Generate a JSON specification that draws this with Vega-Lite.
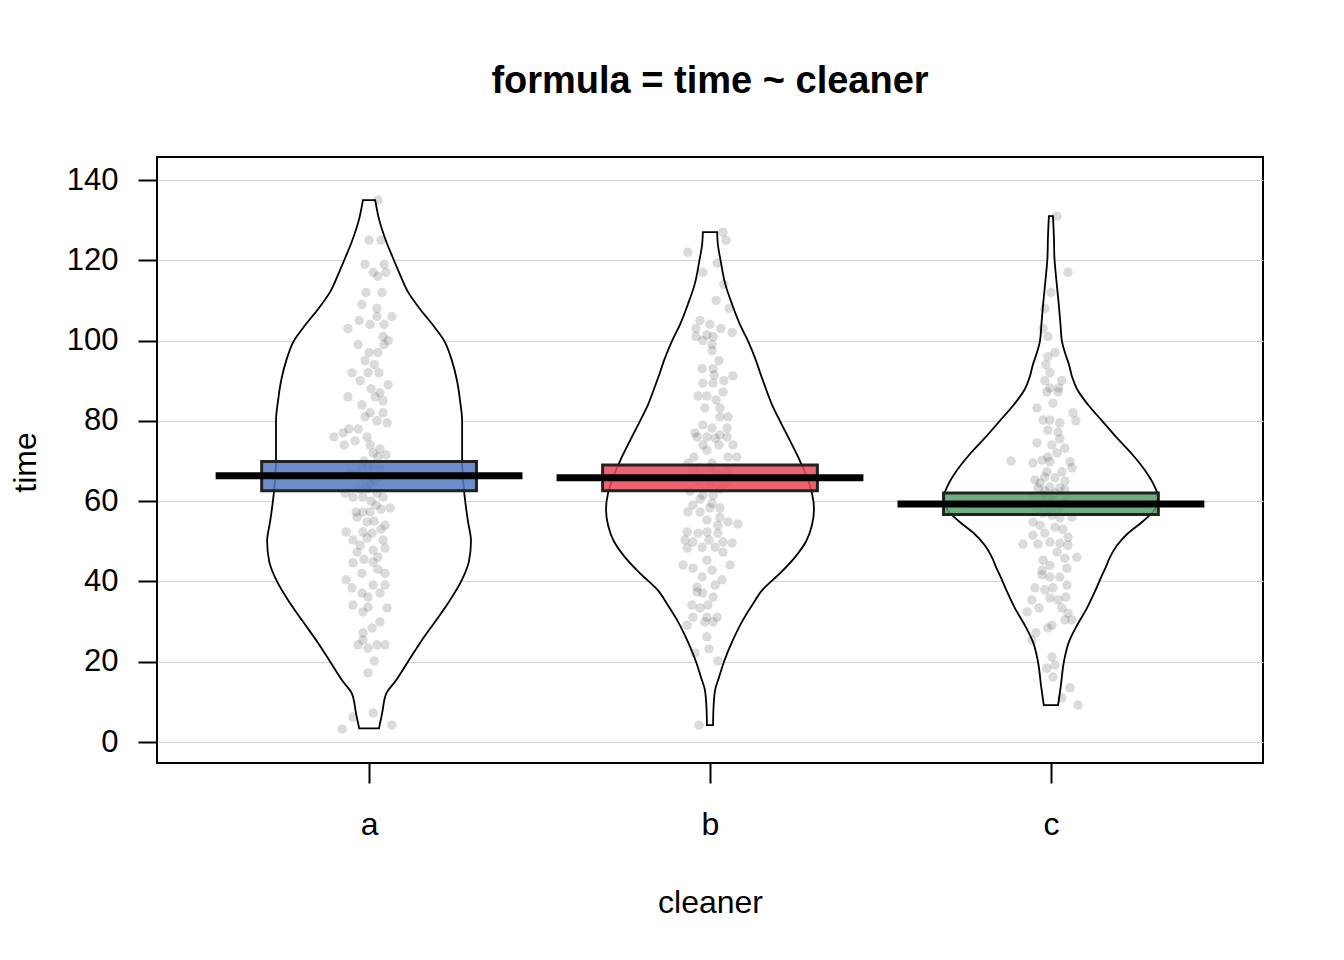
{
  "$schema": "https://vega.github.io/schema/vega-lite/v6.json",
  "width": 1106,
  "height": 606,
  "autosize": {"type": "none"},
  "padding": {"left": 157, "top": 157, "right": 81, "bottom": 197},
  "background": "white",
  "title": {"text": "formula = time ~ cleaner", "font": "Liberation Sans", "fontSize": 38, "fontWeight": "bold", "color": "black", "anchor": "middle", "frame": "group", "baseline": "alphabetic", "offset": 26},
  "config": {
    "view": {"stroke": "black", "strokeWidth": 2},
    "axis": {"labelFont": "Liberation Sans", "titleFont": "Liberation Sans", "labelColor": "black", "titleColor": "black", "tickColor": "black", "tickWidth": 2, "domain": false, "titleFontWeight": "normal"}
  },
  "datasets": {
    "bean": [
      {"c":"a","t":3.4,"w":0.029},{"c":"a","t":7,"w":0.038},{"c":"a","t":12,"w":0.05},{"c":"a","t":15,"w":0.076},{"c":"a","t":20,"w":0.114},{"c":"a","t":25,"w":0.152},{"c":"a","t":30,"w":0.194},{"c":"a","t":35,"w":0.235},{"c":"a","t":40,"w":0.27},{"c":"a","t":45,"w":0.293},{"c":"a","t":50,"w":0.299},{"c":"a","t":55,"w":0.29},{"c":"a","t":60,"w":0.282},{"c":"a","t":65,"w":0.276},{"c":"a","t":70,"w":0.273},{"c":"a","t":75,"w":0.273},{"c":"a","t":80,"w":0.273},{"c":"a","t":85,"w":0.267},{"c":"a","t":90,"w":0.258},{"c":"a","t":95,"w":0.243},{"c":"a","t":100,"w":0.22},{"c":"a","t":104,"w":0.186},{"c":"a","t":108,"w":0.148},{"c":"a","t":112,"w":0.115},{"c":"a","t":117,"w":0.088},{"c":"a","t":121,"w":0.068},{"c":"a","t":125,"w":0.049},{"c":"a","t":130,"w":0.03},{"c":"a","t":135,"w":0.018},
      {"c":"b","t":4.2,"w":0.009},{"c":"b","t":8,"w":0.01},{"c":"b","t":13,"w":0.015},{"c":"b","t":16,"w":0.026},{"c":"b","t":20,"w":0.041},{"c":"b","t":25,"w":0.065},{"c":"b","t":30,"w":0.094},{"c":"b","t":34,"w":0.123},{"c":"b","t":38,"w":0.155},{"c":"b","t":42,"w":0.205},{"c":"b","t":46,"w":0.249},{"c":"b","t":50,"w":0.282},{"c":"b","t":54,"w":0.299},{"c":"b","t":58,"w":0.305},{"c":"b","t":62,"w":0.299},{"c":"b","t":66,"w":0.284},{"c":"b","t":70,"w":0.264},{"c":"b","t":75,"w":0.235},{"c":"b","t":80,"w":0.205},{"c":"b","t":84,"w":0.182},{"c":"b","t":88,"w":0.164},{"c":"b","t":92,"w":0.147},{"c":"b","t":95,"w":0.135},{"c":"b","t":100,"w":0.111},{"c":"b","t":104,"w":0.088},{"c":"b","t":109,"w":0.065},{"c":"b","t":114,"w":0.045},{"c":"b","t":120,"w":0.031},{"c":"b","t":124,"w":0.023},{"c":"b","t":127,"w":0.021},
      {"c":"c","t":9.2,"w":0.021},{"c":"c","t":14,"w":0.029},{"c":"c","t":20,"w":0.038},{"c":"c","t":25,"w":0.053},{"c":"c","t":29,"w":0.076},{"c":"c","t":33.4,"w":0.106},{"c":"c","t":37.5,"w":0.129},{"c":"c","t":41.6,"w":0.15},{"c":"c","t":43,"w":0.158},{"c":"c","t":46,"w":0.173},{"c":"c","t":49,"w":0.194},{"c":"c","t":52,"w":0.226},{"c":"c","t":55,"w":0.27},{"c":"c","t":58,"w":0.305},{"c":"c","t":61,"w":0.314},{"c":"c","t":64,"w":0.302},{"c":"c","t":68,"w":0.273},{"c":"c","t":72,"w":0.235},{"c":"c","t":76,"w":0.191},{"c":"c","t":80,"w":0.15},{"c":"c","t":84,"w":0.109},{"c":"c","t":88,"w":0.076},{"c":"c","t":91,"w":0.062},{"c":"c","t":94,"w":0.053},{"c":"c","t":97,"w":0.041},{"c":"c","t":100,"w":0.032},{"c":"c","t":104,"w":0.028},{"c":"c","t":109,"w":0.023},{"c":"c","t":115,"w":0.016},{"c":"c","t":121,"w":0.01},{"c":"c","t":125,"w":0.009},{"c":"c","t":131,"w":0.006}
    ],
    "pts": [
      {"c":"a","t":135,"j":0.026},{"c":"a","t":125,"j":0},{"c":"a","t":125,"j":0.035},{"c":"a","t":119,"j":-0.012},{"c":"a","t":119,"j":0.044},{"c":"a","t":117,"j":0.012},{"c":"a","t":116,"j":0.026},{"c":"a","t":117,"j":0.05},{"c":"a","t":112,"j":-0.009},{"c":"a","t":112,"j":0.038},{"c":"a","t":109,"j":-0.021},{"c":"a","t":108,"j":0.023},{"c":"a","t":105,"j":-0.029},{"c":"a","t":106,"j":0.023},{"c":"a","t":106,"j":0.067},{"c":"a","t":103,"j":-0.062},{"c":"a","t":104,"j":0.003},{"c":"a","t":104,"j":0.044},{"c":"a","t":101,"j":0.041},{"c":"a","t":100,"j":0.056},{"c":"a","t":99,"j":-0.032},{"c":"a","t":97,"j":0},{"c":"a","t":97,"j":0.026},{"c":"a","t":99,"j":0.044},{"c":"a","t":92,"j":-0.05},{"c":"a","t":92,"j":-0.003},{"c":"a","t":92,"j":0.029},{"c":"a","t":94,"j":0.015},{"c":"a","t":89,"j":0.056},{"c":"a","t":86,"j":-0.062},{"c":"a","t":86,"j":0.018},{"c":"a","t":87,"j":0.032},{"c":"a","t":84,"j":-0.021},{"c":"a","t":82,"j":0.003},{"c":"a","t":82,"j":0.041},{"c":"a","t":80,"j":0.023},{"c":"a","t":79.5,"j":0.053},{"c":"a","t":76,"j":-0.103},{"c":"a","t":77,"j":-0.076},{"c":"a","t":78,"j":-0.059},{"c":"a","t":78,"j":-0.032},{"c":"a","t":75,"j":-0.041},{"c":"a","t":74,"j":-0.073},{"c":"a","t":76,"j":-0.006},{"c":"a","t":74,"j":0.003},{"c":"a","t":72,"j":0.012},{"c":"a","t":71.5,"j":0.05},{"c":"a","t":70,"j":-0.015},{"c":"a","t":69,"j":0.012},{"c":"a","t":68,"j":0.032},{"c":"a","t":67,"j":-0.032},{"c":"a","t":66,"j":0.009},{"c":"a","t":65,"j":-0.009},{"c":"a","t":64,"j":0.003},{"c":"a","t":63,"j":-0.026},{"c":"a","t":62,"j":0.023},{"c":"a","t":61,"j":-0.047},{"c":"a","t":61,"j":-0.018},{"c":"a","t":61,"j":0.041},{"c":"a","t":60,"j":0.006},{"c":"a","t":58.3,"j":0.062},{"c":"a","t":57.3,"j":-0.038},{"c":"a","t":57.3,"j":-0.018},{"c":"a","t":57.3,"j":0.003},{"c":"a","t":56,"j":-0.035},{"c":"a","t":54.8,"j":-0.006},{"c":"a","t":54,"j":0.047},{"c":"a","t":52.3,"j":-0.067},{"c":"a","t":52.3,"j":-0.018},{"c":"a","t":53,"j":0.035},{"c":"a","t":50.3,"j":-0.047},{"c":"a","t":50.8,"j":-0.006},{"c":"a","t":50.3,"j":0.041},{"c":"a","t":47.3,"j":-0.035},{"c":"a","t":47.8,"j":0.012},{"c":"a","t":48.3,"j":0.047},{"c":"a","t":45.5,"j":-0.015},{"c":"a","t":44.6,"j":-0.047},{"c":"a","t":44.8,"j":0.012},{"c":"a","t":42,"j":-0.021},{"c":"a","t":42,"j":0.047},{"c":"a","t":40.4,"j":-0.067},{"c":"a","t":39.1,"j":0.012},{"c":"a","t":39.1,"j":0.047},{"c":"a","t":38.4,"j":-0.05},{"c":"a","t":37.1,"j":-0.021},{"c":"a","t":36.1,"j":-0.003},{"c":"a","t":37.1,"j":0.032},{"c":"a","t":34.1,"j":-0.047},{"c":"a","t":33.6,"j":-0.003},{"c":"a","t":33.4,"j":0.053},{"c":"a","t":32.4,"j":-0.018},{"c":"a","t":29.9,"j":0.032},{"c":"a","t":28.4,"j":0.009},{"c":"a","t":27.2,"j":-0.018},{"c":"a","t":25.4,"j":-0.018},{"c":"a","t":24.2,"j":-0.032},{"c":"a","t":23.4,"j":-0.003},{"c":"a","t":24.2,"j":0.023},{"c":"a","t":24.2,"j":0.047},{"c":"a","t":20.2,"j":0.015},{"c":"a","t":17.2,"j":-0.003},{"c":"a","t":7.2,"j":0.012},{"c":"a","t":6.2,"j":-0.047},{"c":"a","t":3.2,"j":-0.079},{"c":"a","t":4.2,"j":0.067},{"c":"a","t":65,"j":0.018},{"c":"a","t":63,"j":-0.006},{"c":"a","t":69,"j":-0.021},{"c":"a","t":66,"j":0.029},{"c":"a","t":68,"j":-0.003},{"c":"a","t":71,"j":0.026},{"c":"a","t":59,"j":0.021},{"c":"a","t":55,"j":0.015},{"c":"a","t":88,"j":0.006},{"c":"a","t":90,"j":-0.026},{"c":"a","t":95,"j":-0.012},{"c":"a","t":85,"j":0.041},{"c":"a","t":81,"j":-0.012},{"c":"a","t":73,"j":0.032},{"c":"a","t":67,"j":-0.056},{"c":"a","t":62,"j":-0.07},{"c":"a","t":58,"j":0.035},{"c":"a","t":46,"j":0.026},{"c":"a","t":43,"j":0.026},{"c":"a","t":49,"j":-0.026},{"c":"a","t":52,"j":0.009},
      {"c":"b","t":127,"j":0.038},{"c":"b","t":125,"j":0.047},{"c":"b","t":122,"j":-0.065},{"c":"b","t":119.3,"j":0.021},{"c":"b","t":117,"j":-0.021},{"c":"b","t":114,"j":0.041},{"c":"b","t":110,"j":0.018},{"c":"b","t":108,"j":0.056},{"c":"b","t":105,"j":-0.029},{"c":"b","t":104,"j":0},{"c":"b","t":103,"j":-0.041},{"c":"b","t":103,"j":0.032},{"c":"b","t":102,"j":0.065},{"c":"b","t":101.4,"j":-0.009},{"c":"b","t":101,"j":-0.041},{"c":"b","t":101,"j":0.009},{"c":"b","t":100,"j":-0.021},{"c":"b","t":99,"j":0.006},{"c":"b","t":97.5,"j":0.006},{"c":"b","t":95,"j":0.026},{"c":"b","t":93,"j":-0.023},{"c":"b","t":93,"j":0.009},{"c":"b","t":91.4,"j":0.012},{"c":"b","t":91.2,"j":0.067},{"c":"b","t":90,"j":0.041},{"c":"b","t":89.4,"j":-0.021},{"c":"b","t":89.4,"j":0.009},{"c":"b","t":87.2,"j":0.038},{"c":"b","t":86.2,"j":-0.035},{"c":"b","t":86.2,"j":-0.009},{"c":"b","t":85.2,"j":0.018},{"c":"b","t":83.2,"j":-0.015},{"c":"b","t":83.2,"j":0.029},{"c":"b","t":81,"j":0.029},{"c":"b","t":81,"j":0.053},{"c":"b","t":79,"j":-0.021},{"c":"b","t":77,"j":-0.044},{"c":"b","t":78.2,"j":0.006},{"c":"b","t":78.2,"j":0.05},{"c":"b","t":76,"j":-0.038},{"c":"b","t":76,"j":-0.009},{"c":"b","t":76.5,"j":0.029},{"c":"b","t":75.7,"j":0.015},{"c":"b","t":76,"j":0.05},{"c":"b","t":74,"j":-0.021},{"c":"b","t":74,"j":0.026},{"c":"b","t":74,"j":0.067},{"c":"b","t":72.7,"j":-0.009},{"c":"b","t":71,"j":-0.047},{"c":"b","t":71,"j":0.053},{"c":"b","t":71,"j":0.079},{"c":"b","t":69.5,"j":-0.065},{"c":"b","t":69.5,"j":0.006},{"c":"b","t":68.3,"j":-0.029},{"c":"b","t":68.3,"j":0},{"c":"b","t":66,"j":-0.021},{"c":"b","t":66,"j":0.035},{"c":"b","t":64,"j":0},{"c":"b","t":61.5,"j":-0.021},{"c":"b","t":61.5,"j":0.009},{"c":"b","t":59.5,"j":0.006},{"c":"b","t":59,"j":-0.05},{"c":"b","t":58.3,"j":0},{"c":"b","t":58.3,"j":0.029},{"c":"b","t":57.3,"j":-0.065},{"c":"b","t":57.3,"j":-0.029},{"c":"b","t":56,"j":0.029},{"c":"b","t":55.3,"j":-0.009},{"c":"b","t":54.8,"j":0.053},{"c":"b","t":54.3,"j":0.082},{"c":"b","t":54,"j":0.023},{"c":"b","t":52.3,"j":-0.067},{"c":"b","t":52.3,"j":-0.009},{"c":"b","t":52,"j":-0.035},{"c":"b","t":52,"j":0.023},{"c":"b","t":50.3,"j":-0.073},{"c":"b","t":49.8,"j":-0.05},{"c":"b","t":50.3,"j":-0.003},{"c":"b","t":49.8,"j":0.038},{"c":"b","t":49.6,"j":0.065},{"c":"b","t":48.3,"j":-0.067},{"c":"b","t":48.5,"j":-0.023},{"c":"b","t":48.5,"j":0.015},{"c":"b","t":47.3,"j":0.038},{"c":"b","t":44.1,"j":-0.079},{"c":"b","t":43.3,"j":-0.05},{"c":"b","t":45.3,"j":-0.009},{"c":"b","t":44.1,"j":0.059},{"c":"b","t":42.8,"j":0.006},{"c":"b","t":41.1,"j":-0.023},{"c":"b","t":40.4,"j":0.035},{"c":"b","t":38.6,"j":-0.038},{"c":"b","t":39.1,"j":0.015},{"c":"b","t":37.4,"j":-0.038},{"c":"b","t":37.1,"j":-0.021},{"c":"b","t":36.1,"j":0.009},{"c":"b","t":34.1,"j":-0.053},{"c":"b","t":34.1,"j":-0.006},{"c":"b","t":33.4,"j":-0.029},{"c":"b","t":31.1,"j":0.021},{"c":"b","t":31.1,"j":-0.05},{"c":"b","t":31.1,"j":-0.009},{"c":"b","t":29.1,"j":-0.067},{"c":"b","t":29.9,"j":-0.015},{"c":"b","t":29.9,"j":0.009},{"c":"b","t":26.2,"j":-0.009},{"c":"b","t":23.2,"j":-0.003},{"c":"b","t":22.2,"j":-0.044},{"c":"b","t":20.2,"j":0.023},{"c":"b","t":4.2,"j":-0.032},{"c":"b","t":67,"j":0.018},{"c":"b","t":65,"j":-0.035},{"c":"b","t":63,"j":0.029},{"c":"b","t":62.5,"j":-0.059},{"c":"b","t":67.5,"j":0.053},{"c":"b","t":60.5,"j":-0.029},{"c":"b","t":64.5,"j":0.044},{"c":"b","t":68,"j":-0.05},
      {"c":"c","t":131,"j":0.018},{"c":"c","t":117,"j":0.05},{"c":"c","t":112,"j":0},{"c":"c","t":108,"j":-0.018},{"c":"c","t":103,"j":-0.023},{"c":"c","t":101,"j":-0.009},{"c":"c","t":97,"j":0.012},{"c":"c","t":96,"j":-0.009},{"c":"c","t":94,"j":-0.015},{"c":"c","t":92,"j":-0.003},{"c":"c","t":90,"j":-0.018},{"c":"c","t":90,"j":0.032},{"c":"c","t":88.2,"j":-0.003},{"c":"c","t":88.2,"j":0.023},{"c":"c","t":87.2,"j":-0.012},{"c":"c","t":87.2,"j":0.021},{"c":"c","t":84.4,"j":0.006},{"c":"c","t":83.2,"j":-0.041},{"c":"c","t":82,"j":0.065},{"c":"c","t":80,"j":0.073},{"c":"c","t":80.2,"j":-0.023},{"c":"c","t":80.2,"j":-0.003},{"c":"c","t":79.5,"j":0.026},{"c":"c","t":77.7,"j":-0.009},{"c":"c","t":77.2,"j":0.021},{"c":"c","t":74.5,"j":-0.041},{"c":"c","t":74,"j":0.003},{"c":"c","t":73.2,"j":0.041},{"c":"c","t":72,"j":0.018},{"c":"c","t":70,"j":-0.117},{"c":"c","t":69.5,"j":-0.053},{"c":"c","t":70.2,"j":-0.026},{"c":"c","t":69.8,"j":-0.003},{"c":"c","t":69.8,"j":0.056},{"c":"c","t":68.3,"j":0.062},{"c":"c","t":67.3,"j":-0.012},{"c":"c","t":67.3,"j":0.032},{"c":"c","t":65.8,"j":0.012},{"c":"c","t":65.3,"j":-0.047},{"c":"c","t":63.5,"j":-0.003},{"c":"c","t":63.3,"j":0.026},{"c":"c","t":63.3,"j":-0.038},{"c":"c","t":62.8,"j":0.041},{"c":"c","t":61.5,"j":-0.023},{"c":"c","t":60.3,"j":0.006},{"c":"c","t":60.8,"j":-0.053},{"c":"c","t":60.3,"j":0.05},{"c":"c","t":59,"j":-0.012},{"c":"c","t":59,"j":0.026},{"c":"c","t":58.3,"j":-0.038},{"c":"c","t":57.3,"j":-0.003},{"c":"c","t":54.8,"j":-0.053},{"c":"c","t":55.8,"j":0.026},{"c":"c","t":56,"j":0.062},{"c":"c","t":54,"j":-0.032},{"c":"c","t":53.5,"j":0.012},{"c":"c","t":52,"j":-0.018},{"c":"c","t":51,"j":0.05},{"c":"c","t":49.3,"j":-0.082},{"c":"c","t":49.3,"j":-0.038},{"c":"c","t":49.8,"j":-0.003},{"c":"c","t":49.5,"j":0.026},{"c":"c","t":49,"j":0.05},{"c":"c","t":47.3,"j":0.018},{"c":"c","t":45.3,"j":-0.023},{"c":"c","t":45.8,"j":0.041},{"c":"c","t":46,"j":0.076},{"c":"c","t":44,"j":-0.003},{"c":"c","t":42.8,"j":-0.026},{"c":"c","t":43.3,"j":0.047},{"c":"c","t":41.6,"j":-0.026},{"c":"c","t":41.1,"j":-0.003},{"c":"c","t":41.1,"j":0.026},{"c":"c","t":38.4,"j":-0.047},{"c":"c","t":37.9,"j":-0.018},{"c":"c","t":38.4,"j":0.006},{"c":"c","t":39.1,"j":0.047},{"c":"c","t":35.4,"j":-0.056},{"c":"c","t":35.9,"j":-0.003},{"c":"c","t":35.4,"j":0.021},{"c":"c","t":36.1,"j":0.044},{"c":"c","t":33.4,"j":-0.035},{"c":"c","t":32.4,"j":-0.07},{"c":"c","t":33.4,"j":0.032},{"c":"c","t":32.1,"j":0.05},{"c":"c","t":30.4,"j":0.041},{"c":"c","t":30.4,"j":0.062},{"c":"c","t":29.1,"j":0.003},{"c":"c","t":28.4,"j":-0.009},{"c":"c","t":27.2,"j":-0.044},{"c":"c","t":25.4,"j":-0.056},{"c":"c","t":21.2,"j":0.003},{"c":"c","t":19.2,"j":0.012},{"c":"c","t":18.4,"j":-0.012},{"c":"c","t":16.2,"j":0.006},{"c":"c","t":13.5,"j":0.056},{"c":"c","t":11,"j":0.032},{"c":"c","t":9.2,"j":0.079},{"c":"c","t":66,"j":-0.018},{"c":"c","t":64.5,"j":-0.032},{"c":"c","t":62,"j":0.012},{"c":"c","t":61,"j":-0.009},{"c":"c","t":58,"j":0.021},{"c":"c","t":57,"j":-0.023},{"c":"c","t":56.5,"j":0.003},{"c":"c","t":62.5,"j":-0.018},{"c":"c","t":59.5,"j":0.041},{"c":"c","t":65,"j":0.041},{"c":"c","t":71,"j":-0.009},{"c":"c","t":75.5,"j":0.026},{"c":"c","t":53,"j":0.035},{"c":"c","t":51.5,"j":-0.053}
    ],
    "inf": [
      {"c":"a","mean":66.3,"lo":62.6,"hi":69.9},
      {"c":"b","mean":65.8,"lo":62.6,"hi":69.0},
      {"c":"c","mean":59.3,"lo":56.7,"hi":62.0}
    ]
  },
  "layer": [
    {
      "data": {"name": "bean"},
      "transform": [
        {"calculate": "datum.c == 'a' ? 1 : datum.c == 'b' ? 2 : 3", "as": "idx"},
        {"calculate": "datum.idx - datum.w", "as": "left"},
        {"calculate": "datum.idx + datum.w", "as": "right"}
      ],
      "mark": {"type": "area", "orient": "horizontal", "interpolate": "monotone", "fill": "white", "fillOpacity": 1, "stroke": "black", "strokeWidth": 1.8},
      "encoding": {
        "y": {"field": "t", "type": "quantitative", "scale": {"domain": [-5.23, 145.73], "nice": false, "zero": false},
          "axis": {"values": [0, 20, 40, 60, 80, 100, 120, 140], "grid": true, "gridColor": "#d2d2d2", "gridWidth": 1, "tickSize": 19, "labelPadding": 20, "labelFontSize": 31, "title": "time", "titleFontSize": 32, "titleX": -132, "titleY": 305, "titleAlign": "center", "titleBaseline": "middle", "titleAngle": -90}},
        "x": {"field": "left", "type": "quantitative", "scale": {"domain": [0.378, 3.622], "nice": false, "zero": false},
          "axis": {"values": [1, 2, 3], "labelExpr": "datum.value == 1 ? 'a' : datum.value == 2 ? 'b' : 'c'", "grid": false, "tickSize": 20, "labelPadding": 51, "labelBaseline": "alphabetic", "labelFontSize": 32, "title": "cleaner", "titleFontSize": 32, "titleX": 553, "titleY": 149, "titleBaseline": "alphabetic", "titleAlign": "center"}},
        "x2": {"field": "right"},
        "detail": {"field": "c", "type": "nominal"}
      }
    },
    {
      "data": {"name": "pts"},
      "transform": [
        {"calculate": "(datum.c == 'a' ? 1 : datum.c == 'b' ? 2 : 3) + datum.j", "as": "px"}
      ],
      "mark": {"type": "circle", "size": 90, "fill": "black", "opacity": 0.14, "strokeWidth": 0},
      "encoding": {
        "x": {"field": "px", "type": "quantitative"},
        "y": {"field": "t", "type": "quantitative"}
      }
    },
    {
      "data": {"name": "inf"},
      "transform": [
        {"calculate": "datum.c == 'a' ? 1 : datum.c == 'b' ? 2 : 3", "as": "idx"},
        {"calculate": "datum.idx - 0.315", "as": "bl"},
        {"calculate": "datum.idx + 0.315", "as": "br"}
      ],
      "mark": {"type": "rect", "fillOpacity": 0.85, "stroke": "#222222", "strokeWidth": 3},
      "encoding": {
        "x": {"field": "bl", "type": "quantitative"},
        "x2": {"field": "br"},
        "y": {"field": "lo", "type": "quantitative"},
        "y2": {"field": "hi"},
        "fill": {"field": "c", "type": "nominal", "scale": {"domain": ["a", "b", "c"], "range": ["#5179c0", "#ea4958", "#56a06a"]}, "legend": null}
      }
    },
    {
      "data": {"name": "inf"},
      "transform": [
        {"calculate": "datum.c == 'a' ? 1 : datum.c == 'b' ? 2 : 3", "as": "idx"},
        {"calculate": "datum.idx - 0.45", "as": "ml"},
        {"calculate": "datum.idx + 0.45", "as": "mr"}
      ],
      "mark": {"type": "rule", "color": "black", "strokeWidth": 7, "strokeCap": "butt"},
      "encoding": {
        "x": {"field": "ml", "type": "quantitative"},
        "x2": {"field": "mr"},
        "y": {"field": "mean", "type": "quantitative"}
      }
    }
  ]
}
